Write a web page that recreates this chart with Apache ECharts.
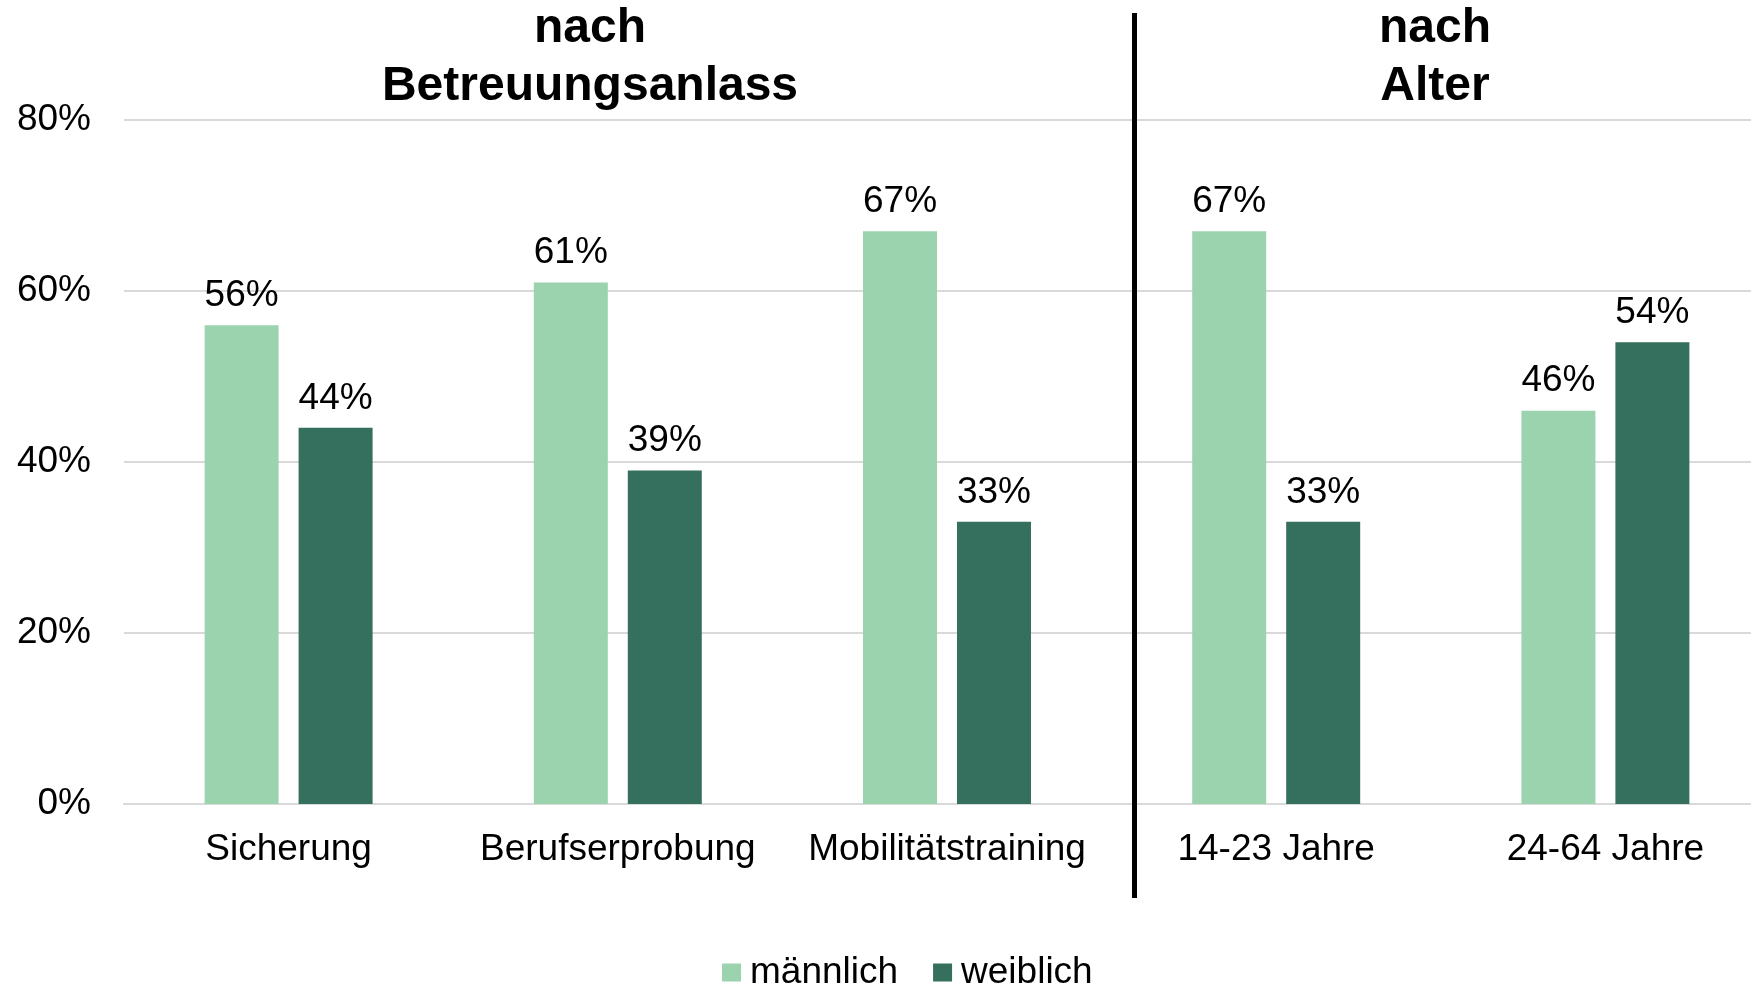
<!DOCTYPE html>
<html>
<head>
<meta charset="utf-8">
<script src="https://cdn.jsdelivr.net/npm/echarts@6/dist/echarts.min.js"></script>
<style>
html,body{margin:0;padding:0;background:#fff;}
#chart{width:1751px;height:985px;}
</style>
</head>
<body>
<div id="chart"></div>
<script>
const categories = ['Sicherung', 'Berufserprobung', 'Mobilitätstraining', '14-23 Jahre', '24-64 Jahre'];
const maennlich = [56, 61, 67, 67, 46];
const weiblich = [44, 39, 33, 33, 54];
const seriesNames = ['männlich', 'weiblich'];
const groupTitles = ['nach\nBetreuungsanlass', 'nach\nAlter'];

const FONT = "'Liberation Sans', Arial, sans-serif";
const chart = echarts.init(document.getElementById('chart'), null, {renderer: 'canvas'});

const labelStyle = {
  show: true, position: 'top', distance: 11,
  formatter: '{c}%', color: '#000', fontSize: 37, fontFamily: FONT
};

chart.setOption({
  animation: false,
  backgroundColor: '#fff',
  textStyle: {fontFamily: FONT},
  grid: {left: 124, top: 120, width: 1646, height: 684, containLabel: false, outerBoundsMode: 'none'},
  legend: {
    data: seriesNames,
    left: 717, top: 949,
    icon: 'rect', itemWidth: 19, itemHeight: 18, itemGap: 35,
    textStyle: {fontSize: 37, color: '#000', fontFamily: FONT, padding: [0, 0, 0, 4]}
  },
  xAxis: {
    type: 'category',
    data: categories,
    axisLine: {lineStyle: {color: '#d9d9d9', width: 2}},
    axisTick: {show: false},
    axisLabel: {color: '#000', fontSize: 37, fontFamily: FONT, margin: 27, interval: 0}
  },
  yAxis: {
    type: 'value', min: 0, max: 80, interval: 20,
    axisLine: {show: false}, axisTick: {show: false},
    splitLine: {lineStyle: {color: '#d9d9d9', width: 2}},
    axisLabel: {formatter: '{value}%', color: '#000', fontSize: 37, fontFamily: FONT, margin: 33}
  },
  series: [
    {name: seriesNames[0], type: 'bar', data: maennlich, barWidth: 74, barGap: '27%',
     itemStyle: {color: '#9bd3ae'}, label: labelStyle},
    {name: seriesNames[1], type: 'bar', data: weiblich, barWidth: 74,
     itemStyle: {color: '#356f5e'}, label: labelStyle}
  ],
  graphic: [
    {type: 'line', shape: {x1: 1134.5, y1: 13, x2: 1134.5, y2: 898},
     style: {stroke: '#000', lineWidth: 5}, z: 100},
    {type: 'text', x: 590, y: 58,
     style: {text: groupTitles[0], fill: '#000', font: "bold 48px " + FONT,
             textAlign: 'center', textVerticalAlign: 'middle', lineHeight: 58}},
    {type: 'text', x: 1435, y: 58,
     style: {text: groupTitles[1], fill: '#000', font: "bold 48px " + FONT,
             textAlign: 'center', textVerticalAlign: 'middle', lineHeight: 58}}
  ]
});
</script>
</body>
</html>
